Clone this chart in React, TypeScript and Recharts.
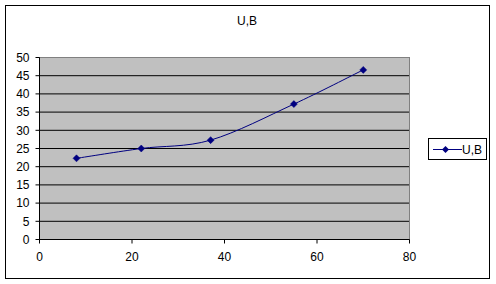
import React from 'react';
import { LineChart, Line, XAxis, YAxis, CartesianGrid, ReferenceLine } from 'recharts';

const xValues = [8, 22, 37, 55, 70];
const uValues = [22.3, 25, 27.3, 37.2, 46.6];
const xTicks = [0, 20, 40, 60, 80];
const yTicks = [0, 5, 10, 15, 20, 25, 30, 35, 40, 45, 50];
const seriesName = 'U,B';

const FONT = '"Liberation Sans", Arial, sans-serif';
const NAVY = '#000080';

const data = xValues.map((x, i) => ({ x, u: uValues[i] }));

// Excel-style smoothing (Catmull-Rom tangents as cubic beziers)
const excelSmooth = (context: any) => {
  let pts: number[][] = [];
  return {
    areaStart() {},
    areaEnd() {},
    lineStart() { pts = []; },
    point(x: number, y: number) { pts.push([+x, +y]); },
    lineEnd() {
      const n = pts.length;
      if (!n) return;
      context.moveTo(pts[0][0], pts[0][1]);
      for (let i = 0; i < n - 1; i++) {
        const p0 = pts[Math.max(i - 1, 0)];
        const p1 = pts[i];
        const p2 = pts[i + 1];
        const p3 = pts[Math.min(i + 2, n - 1)];
        context.bezierCurveTo(
          p1[0] + (p2[0] - p0[0]) / 6, p1[1] + (p2[1] - p0[1]) / 6,
          p2[0] - (p3[0] - p1[0]) / 6, p2[1] - (p3[1] - p1[1]) / 6,
          p2[0], p2[1],
        );
      }
    },
  };
};

const Diamond = (props: any) => {
  const { cx, cy, index } = props;
  if (cx == null || cy == null) return <g key={index} />;
  const r = 3.5;
  return (
    <polygon
      key={index}
      points={`${cx},${cy - r} ${cx + r},${cy} ${cx},${cy + r} ${cx - r},${cy}`}
      fill={NAVY}
      stroke={NAVY}
      strokeWidth={0.5}
    />
  );
};

const App: React.FC = () => {
  return (
    <div style={{ position: 'absolute', left: 0, top: 0, width: 496, height: 284, background: '#fff', fontFamily: FONT }}>
      <div
        style={{
          position: 'absolute', left: 5, top: 5, width: 485, height: 274,
          border: '1px solid #000', boxSizing: 'border-box',
        }}
      />
      <div style={{ position: 'absolute', left: 207, top: 14, width: 80, textAlign: 'center', fontSize: 12, color: '#000' }}>
        {seriesName}
      </div>
      <LineChart
        width={496}
        height={284}
        data={data}
        margin={{ top: 57.5, right: 86.5, bottom: 14.5, left: 0.5 }}
        style={{ position: 'absolute', left: 0, top: 0 }}
      >
        <CartesianGrid vertical={false} fill="#c0c0c0" stroke="#000" strokeOpacity={1} fillOpacity={1} />
        <ReferenceLine y={50} stroke="#808080" />
        <ReferenceLine x={80} stroke="#808080" />
        <XAxis
          type="number"
          dataKey="x"
          domain={[0, 80]}
          ticks={xTicks}
          interval={0}
          stroke="#000"
          tickSize={4}
          tickMargin={9}
          height={30}
          tick={{ fill: '#000', fontSize: 12, fontFamily: FONT }}
        />
        <YAxis
          type="number"
          domain={[0, 50]}
          ticks={yTicks}
          interval={0}
          stroke="#000"
          tickSize={4}
          tickMargin={6}
          width={39}
          tick={{ fill: '#000', fontSize: 12, fontFamily: FONT }}
        />
        <Line
          type={excelSmooth as any}
          dataKey="u"
          name={seriesName}
          stroke={NAVY}
          strokeWidth={1}
          dot={Diamond}
          activeDot={false}
          isAnimationActive={false}
        />
      </LineChart>
      <div
        style={{
          position: 'absolute', left: 428, top: 138, width: 59, height: 22,
          border: '1px solid #000', boxSizing: 'border-box', background: '#fff',
        }}
      >
        <svg width={57} height={20} style={{ position: 'absolute', left: 0, top: 0 }}>
          <line x1={4} y1={10.5} x2={33} y2={10.5} stroke={NAVY} strokeWidth={1} />
          <polygon points="16.5,7 20,10.5 16.5,14 13,10.5" fill={NAVY} />
          <text x={33} y={14.6} fontSize={12} fontFamily={FONT} fill="#000">{seriesName}</text>
        </svg>
      </div>
    </div>
  );
};

export default App;
